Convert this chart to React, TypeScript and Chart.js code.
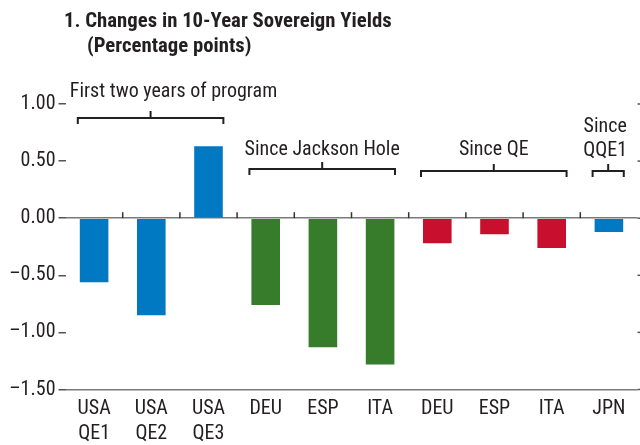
import React, { useEffect, useRef } from 'react';
import { Chart, registerables } from 'chart.js';

Chart.register(...registerables);

const titleLines = ['1. Changes in 10-Year Sovereign Yields', '(Percentage points)'];
const categories: (string | string[])[] = [
  ['USA', 'QE1'], ['USA', 'QE2'], ['USA', 'QE3'],
  'DEU', 'ESP', 'ITA',
  'DEU', 'ESP', 'ITA',
  'JPN',
];
const values = [-0.56, -0.85, 0.63, -0.76, -1.13, -1.28, -0.22, -0.14, -0.26, -0.12];
const barColors = [
  '#0079C2', '#0079C2', '#0079C2',
  '#367C2B', '#367C2B', '#367C2B',
  '#C8102E', '#C8102E', '#C8102E',
  '#0079C2',
];
const yTicks = [1, 0.5, 0, -0.5, -1, -1.5];
const groupLabels: string[][] = [
  ['First two years of program'],
  ['Since Jackson Hole'],
  ['Since QE'],
  ['Since', 'QQE1'],
];
const groupFrom = [0, 3, 6, 9];
const groupTo = [2, 5, 8, 9];

const FONT = "'Roboto Condensed', 'DejaVu Sans Condensed', sans-serif";
const TEXT = '#231F20';

const decorPlugin = {
  id: 'decor',
  afterDraw(chart: any) {
    const { ctx, chartArea } = chart;
    const x = chart.scales.x;
    const y = chart.scales.y;
    ctx.save();
    // title
    ctx.fillStyle = TEXT;
    ctx.textBaseline = 'alphabetic';
    ctx.textAlign = 'left';
    ctx.font = `bold 20.75px ${FONT}`;
    ctx.fillText(titleLines[0], 64, 27);
    ctx.fillText(titleLines[1], 87, 52);

    // right tick marks
    ctx.strokeStyle = '#555';
    ctx.lineWidth = 1.5;
    yTicks.forEach((v) => {
      const py = y.getPixelForValue(v);
      ctx.beginPath();
      ctx.moveTo(chartArea.right, py);
      ctx.lineTo(chart.width, py);
      ctx.stroke();
    });

    // category boundary ticks on zero line
    const y0 = y.getPixelForValue(0);
    ctx.strokeStyle = '#333';
    for (let i = 0; i < categories.length - 1; i++) {
      const bx = (x.getPixelForValue(i) + x.getPixelForValue(i + 1)) / 2;
      ctx.beginPath();
      ctx.moveTo(bx, y0 - 6);
      ctx.lineTo(bx, y0);
      ctx.stroke();
    }

    // group brackets and labels
    const step = x.getPixelForValue(1) - x.getPixelForValue(0);
    const bracketY = [118, 169, 171, 171];
    const textBase = [[97], [155], [155], [132, 156]];
    ctx.lineWidth = 2;
    ctx.strokeStyle = TEXT;
    ctx.font = `20px ${FONT}`;
    groupLabels.forEach((lines, g) => {
      const x1 = x.getPixelForValue(groupFrom[g]) - step * 0.285;
      const x2 = x.getPixelForValue(groupTo[g]) + step * 0.26;
      const by = bracketY[g];
      const cx = (x1 + x2) / 2;
      ctx.beginPath();
      ctx.moveTo(x1, by + 6);
      ctx.lineTo(x1, by);
      ctx.lineTo(x2, by);
      ctx.lineTo(x2, by + 6);
      ctx.moveTo(cx, by);
      ctx.lineTo(cx, by - 7);
      ctx.stroke();
      lines.forEach((t, k) => {
        if (g === 0) {
          ctx.textAlign = 'left';
          ctx.fillText(t, x1 - 8, textBase[g][k]);
        } else {
          ctx.textAlign = 'center';
          ctx.fillText(t, cx - (g === 3 ? 3 : 0), textBase[g][k]);
        }
      });
    });
    ctx.restore();
  },
};

export default function App() {
  const ref = useRef<HTMLCanvasElement>(null);
  useEffect(() => {
    if (!ref.current) return;
    const chart = new Chart(ref.current, {
      type: 'bar',
      data: {
        labels: categories,
        datasets: [
          {
            data: values,
            backgroundColor: barColors,
            borderWidth: 0,
            barPercentage: 0.5,
            categoryPercentage: 1,
          },
        ],
      },
      options: {
        animation: false,
        responsive: false,
        maintainAspectRatio: false,
        layout: { padding: { top: 104, right: 2.5, left: 0, bottom: 0 } },
        plugins: { legend: { display: false }, tooltip: { enabled: false }, title: { display: false } },
        scales: {
          x: {
            grid: { display: false, drawTicks: false },
            border: { display: false },
            ticks: {
              color: TEXT,
              padding: 7,
              maxRotation: 0,
              autoSkip: false,
              font: { family: FONT, size: 20, lineHeight: 1.25 },
            },
            afterFit: (s: any) => {
              s.height = 55.5;
            },
          },
          y: {
            min: -1.5,
            max: 1,
            afterBuildTicks: (s: any) => {
              s.ticks = yTicks.map((v) => ({ value: v }));
            },
            grid: {
              drawTicks: true,
              tickLength: 7,
              tickColor: '#555',
              tickWidth: 1.5,
              lineWidth: 1.5,
              color: (c: any) =>
                c.tick && (c.tick.value === 0 || c.tick.value === -1.5) ? '#7a7a7a' : 'rgba(0,0,0,0)',
            },
            border: { display: false },
            ticks: {
              color: TEXT,
              padding: 3,
              font: { family: FONT, size: 20 },
              callback: (v: any) => (Number(v) < 0 ? '\u2013' : '') + Math.abs(Number(v)).toFixed(2),
            },
            afterFit: (s: any) => {
              s.width = 65.5;
            },
          },
        },
      },
      plugins: [decorPlugin],
    });
    return () => chart.destroy();
  }, []);
  return (
    <div style={{ position: 'absolute', left: 0, top: 0, width: 640, height: 445, background: '#fff' }}>
      <canvas ref={ref} width={640} height={445} style={{ display: 'block' }} />
    </div>
  );
}
